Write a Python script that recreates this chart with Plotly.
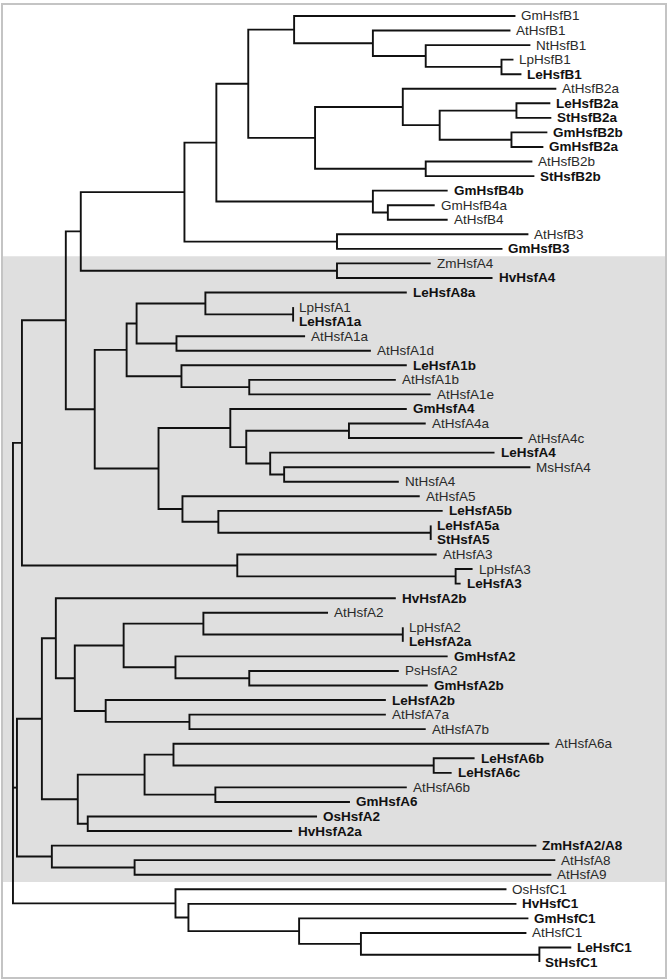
import plotly.graph_objects as go

# ---------------- data: tree topology with branch lengths (Newick fragments) ----------------
CLADE_B1 = "(GmHsfB1:0.222,(AtHsfB1:0.138,(NtHsfB1:0.105,(LpHsfB1:0.012,LeHsfB1:0.020):0.076):0.053):0.079)"
CLADE_B2 = ("((AtHsfB2a:0.154,((LeHsfB2a:0.034,StHsfB2a:0.035):0.077,(GmHsfB2b:0.036,GmHsfB2a:0.032):0.072):0.037):0.088,"
            "(AtHsfB2b:0.107,StHsfB2b:0.109):0.111)")
CLADE_B4 = "(GmHsfB4b:0.075,(GmHsfB4a:0.047,AtHsfB4:0.060):0.015)"
CLADE_B3 = "(AtHsfB3:0.192,GmHsfB3:0.166)"
CLADE_A4_MONO = "(ZmHsfA4:0.094,HvHsfA4:0.156)"
CLADE_A1 = ("(((LeHsfA8a:0.202,(LpHsfA1:0,LeHsfA1a:0):0.088):0.069,(AtHsfA1a:0.129,AtHsfA1d:0.195):0.040):0.010,"
            "(LeHsfA1b:0.226,(AtHsfA1b:0.147,AtHsfA1e:0.182):0.068):0.055)")
CLADE_A4_A5 = ("((GmHsfA4:0.177,((AtHsfA4a:0.077,AtHsfA4c:0.174):0.103,(LeHsfA4:0.225,(MsHsfA4:0.247,NtHsfA4:0.115):0.014):0.024):0.016):0.072,"
               "(AtHsfA5:0.238,(LeHsfA5b:0.225,(LeHsfA5a:0,StHsfA5:0):0.213):0.036):0.024)")
CLADE_A3 = "(AtHsfA3:0.200,(LpHsfA3:0.017,LeHsfA3:0.005):0.219)"
CLADE_A2_A7 = ("(HvHsfA2b:0.341,(((AtHsfA2:0.125,(LpHsfA2:0,LeHsfA2a:0):0.200):0.080,(GmHsfA2:0.273,(PsHsfA2:0.150,GmHsfA2b:0.179):0.074):0.052):0.049,"
               "(LeHsfA2b:0.281,(AtHsfA7a:0.197,AtHsfA7b:0.237):0.084):0.031):0.019)")
CLADE_A6 = ("(((AtHsfA6a:0.377,(LeHsfA6b:0.041,LeHsfA6c:0.018):0.261):0.029,(AtHsfA6b:0.192,GmHsfA6:0.135):0.071):0.067,"
            "(OsHsfA2:0.230,HvHsfA2a:0.205):0.010)")
CLADE_A8_A9 = "(ZmHsfA2/A8:0.486,(AtHsfA8:0.422,AtHsfA9:0.418):0.083)"
CLADE_C = "(OsHsfC1:0.332,(HvHsfC1:0.329,(GmHsfC1:0.230,(AtHsfC1:0.166,(LeHsfC1:0.032,StHsfC1:0):0.179):0.062):0.111):0.013)"

BOLD_TAXA = ["LeHsfB1", "LeHsfB2a", "StHsfB2a", "GmHsfB2b", "GmHsfB2a", "StHsfB2b", "GmHsfB4b", "GmHsfB3",
             "HvHsfA4", "LeHsfA8a", "LeHsfA1a", "LeHsfA1b", "GmHsfA4", "LeHsfA4", "LeHsfA5b", "LeHsfA5a",
             "StHsfA5", "LeHsfA3", "HvHsfA2b", "LeHsfA2a", "GmHsfA2", "GmHsfA2b", "LeHsfA2b", "LeHsfA6b",
             "LeHsfA6c", "GmHsfA6", "OsHsfA2", "HvHsfA2a", "ZmHsfA2/A8", "HvHsfC1", "GmHsfC1", "LeHsfC1", "StHsfC1"]
SHADED_CLASS = "HsfA"


def clade(*parts):
    return "(" + ",".join("%s:%s" % (sub, bl) for sub, bl in parts) + ")"


# deeper joins (subtree, branch length)
N249 = clade((CLADE_B1, 0.046), (CLADE_B2, 0.067))
N217 = clade((N249, 0.032), (CLADE_B4, 0.157))
N185 = clade((N217, 0.032), (CLADE_B3, 0.153))
N81 = clade((N185, 0.104), (CLADE_A4_MONO, 0.257))
N95 = clade((CLADE_A1, 0.032), (CLADE_A4_A5, 0.064))
N66 = clade((N81, 0.015), (N95, 0.029))
N22 = clade((N66, 0.044), (CLADE_A3, 0.216))
N42 = clade((CLADE_A2_A7, 0.014), (CLADE_A6, 0.036))
NA2 = clade((N42, 0.025), (CLADE_A8_A9, 0.035))
TREE = clade((N22, 0.009), (NA2, 0.004), (CLADE_C, 0.163)) + ";"


# ---------------- parse & lay out ----------------
def parse_newick(s):
    pos = 0

    def node():
        nonlocal pos
        children = []
        if s[pos] == "(":
            pos += 1
            while True:
                children.append(node())
                if s[pos] == ",":
                    pos += 1
                elif s[pos] == ")":
                    pos += 1
                    break
                else:
                    raise ValueError("bad newick at %d" % pos)
        start = pos
        while pos < len(s) and s[pos] not in ",();":
            pos += 1
        name, _, bl = s[start:pos].partition(":")
        return {"name": name, "len": float(bl) if bl else 0.0, "children": children}

    return node()


root = parse_newick(TREE)
leaves = []


def layout(n, x0):
    n["x"] = x0 + n["len"]
    if not n["children"]:
        n["y"] = len(leaves)
        leaves.append(n)
    else:
        for c in n["children"]:
            layout(c, n["x"])
        n["y"] = (n["children"][0]["y"] + n["children"][-1]["y"]) / 2


layout(root, 0.0)

xs, ys = [], []


def draw(n):
    ch = n["children"]
    if not ch:
        return
    first, last = ch[0], ch[-1]
    xs.extend([first["x"], n["x"], n["x"], last["x"], None])
    ys.extend([first["y"], first["y"], last["y"], last["y"], None])
    for c in ch[1:-1]:
        xs.extend([n["x"], c["x"], None])
        ys.extend([c["y"], c["y"], None])
    for c in ch:
        draw(c)


draw(root)

fig = go.Figure()
fig.add_trace(go.Scatter(x=xs, y=ys, mode="lines", line=dict(color="#111111", width=1.9),
                         hoverinfo="skip", showlegend=False))

annotations = []
for lf in leaves:
    bold = lf["name"] in BOLD_TAXA
    annotations.append(dict(
        x=lf["x"], y=lf["y"], xref="x", yref="y",
        text=("<b>%s</b>" % lf["name"]) if bold else lf["name"],
        showarrow=False, xanchor="left", yanchor="middle", xshift=4, yshift=0,
        font=dict(family="Liberation Sans, Arial, sans-serif", size=13.5,
                  color="#111111" if bold else "#2a2a2a"),
    ))

shaded = [i for i, lf in enumerate(leaves) if SHADED_CLASS in lf["name"]]
shapes = [dict(type="rect", xref="x domain", yref="y", x0=0, x1=1,
               y0=min(shaded) - 0.5, y1=max(shaded) + 0.5,
               fillcolor="#dfdfdf", line=dict(width=0), layer="below")]

# pixel geometry of the frame
W, H = 670, 980
M = 3
PX_PER_UNIT = 1000.0          # 1 px = 0.001 distance units
ROOT_PX = 13 - M
LEAF0_PX, LEAF_STEP = 14 - M, 14.585
plot_w, plot_h = W - 2 * M, H - 2 * M

fig.update_layout(
    width=W, height=H,
    margin=dict(l=M, r=M, t=M, b=M),
    paper_bgcolor="white", plot_bgcolor="white",
    annotations=annotations, shapes=shapes,
    xaxis=dict(range=[-ROOT_PX / PX_PER_UNIT, (plot_w - ROOT_PX) / PX_PER_UNIT],
               showgrid=False, zeroline=False, showticklabels=False, ticks="",
               showline=True, mirror=True, linecolor="#c4c4c4", linewidth=2),
    yaxis=dict(range=[(plot_h - LEAF0_PX) / LEAF_STEP, -LEAF0_PX / LEAF_STEP],
               showgrid=False, zeroline=False, showticklabels=False, ticks="",
               showline=True, mirror=True, linecolor="#c4c4c4", linewidth=2),
)

fig.write_html("out.html", config={"displayModeBar": False},
               post_script="document.body.style.margin='0px';document.body.style.overflow='hidden';")
